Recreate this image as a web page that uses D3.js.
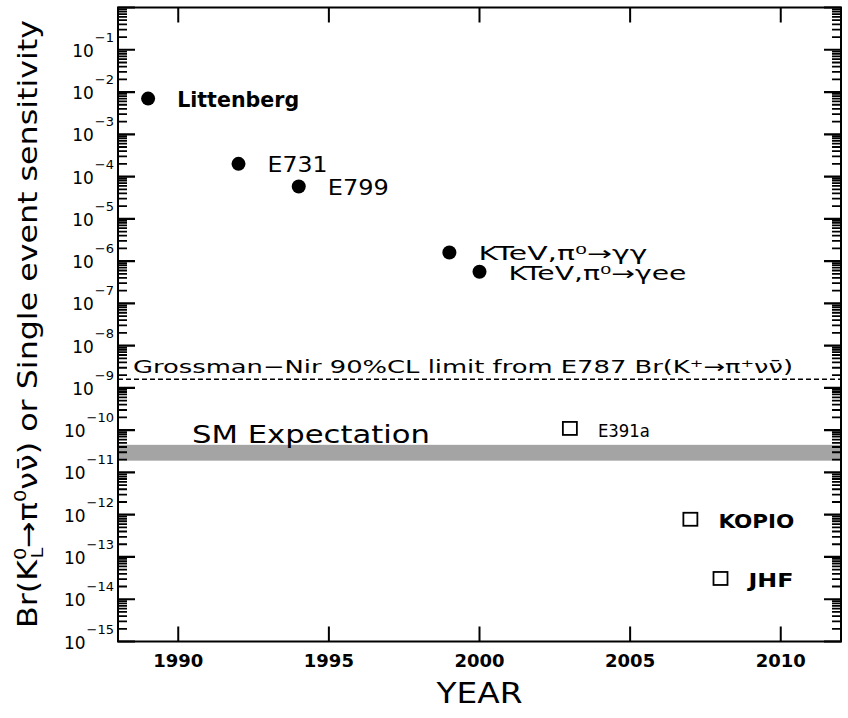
<!DOCTYPE html>
<html><head><meta charset="utf-8">
<script src="https://cdn.jsdelivr.net/npm/d3@7"></script>
<style>
body{margin:0;background:#fff}
svg{display:block}
text{font-family:"DejaVu Sans","Liberation Sans",sans-serif;fill:#000}
</style>
</head><body>
<svg id="c" width="848" height="718"></svg>
<script>
// ---------------- data ----------------
const measuredNames  = ["Littenberg", "E731", "E799", "KTeV,π⁰→γγ", "KTeV,π⁰→γee"];
const measuredYears  = [1989, 1992, 1994, 1999, 2000];
const measuredValues = [7.0e-3, 2.0e-4, 5.8e-5, 1.6e-6, 5.6e-7];

const futureNames  = ["E391a", "KOPIO", "JHF"];
const futureYears  = [2003, 2007, 2008];
const futureValues = [1.1e-10, 7.8e-13, 3.1e-14];

const grossmanNirLimit = 1.6e-9;
const grossmanNirLabel = "Grossman−Nir 90%CL limit from E787 Br(K⁺→π⁺νν̄)";
const smBand = [1.9e-11, 4.5e-11];
const smLabel = "SM Expectation";

const xTicks = [1990, 1995, 2000, 2005, 2010];
const yExponents = [-1,-2,-3,-4,-5,-6,-7,-8,-9,-10,-11,-12,-13,-14,-15];
const xTitle = "YEAR";

// ---------------- layout ----------------
const L = 118, R = 841, T = 7.5, B = 641.5;
const svg = d3.select("#c");
const x = d3.scaleLinear().domain([1988, 2012]).range([L, R]);
const y = d3.scaleLog().domain([1e-15, 1]).range([B, T]);

function stretch(sel, w) {
  sel.attr("textLength", w).attr("lengthAdjust", "spacingAndGlyphs");
}

// SM band
svg.append("rect")
  .attr("x", L).attr("width", R - L)
  .attr("y", y(smBand[1])).attr("height", y(smBand[0]) - y(smBand[1]))
  .attr("fill", "#a4a4a4");

// Grossman-Nir limit dashed line
svg.append("line")
  .attr("x1", L).attr("x2", R)
  .attr("y1", y(grossmanNirLimit)).attr("y2", y(grossmanNirLimit))
  .attr("stroke", "#000").attr("stroke-width", 1.3).attr("stroke-dasharray", "5,3");

// ---------------- ticks (drawn as paths from the scales) ----------------
const yMajor = yExponents.concat([0]).map(e => Math.pow(10, e));
const yMinor = [];
yExponents.forEach(e => { for (let k = 2; k <= 9; k++) yMinor.push(k * Math.pow(10, e)); });

function yTickPath(vals, x0, len) {
  const p = d3.path();
  vals.forEach(v => { const yy = y(v); p.moveTo(x0, yy); p.lineTo(x0 + len, yy); });
  return p.toString();
}
[[L, 1], [R, -1]].forEach(([x0, dir]) => {
  svg.append("path").attr("d", yTickPath(yMinor, x0, dir * 9))
    .attr("fill", "none").attr("stroke", "#000").attr("stroke-width", 1.8);
  svg.append("path").attr("d", yTickPath(yMajor, x0, dir * 17))
    .attr("fill", "none").attr("stroke", "#000").attr("stroke-width", 2.2);
});
[[B, -1], [T, 1]].forEach(([y0, dir]) => {
  const p = d3.path();
  xTicks.forEach(t => { p.moveTo(x(t), y0); p.lineTo(x(t), y0 + dir * 15); });
  svg.append("path").attr("d", p.toString())
    .attr("fill", "none").attr("stroke", "#000").attr("stroke-width", 2);
});

// frame
svg.append("rect").attr("x", L).attr("y", T).attr("width", R - L).attr("height", B - T)
  .attr("fill", "none").attr("stroke", "#000").attr("stroke-width", 2);

// y tick labels
const yl = svg.selectAll(".ylab").data(yExponents).enter().append("text")
  .attr("class", "ylab")
  .attr("x", 114).attr("y", e => y(Math.pow(10, e)) + 7)
  .attr("text-anchor", "end").attr("font-size", 17);
yl.append("tspan").text("10");
yl.append("tspan").attr("dy", -15).attr("dx", 1).attr("font-size", 13).text(e => "−" + Math.abs(e));

// x tick labels
svg.selectAll(".xlab").data(xTicks).enter().append("text")
  .attr("class", "xlab")
  .attr("x", d => x(d)).attr("y", 667)
  .attr("text-anchor", "middle").attr("font-size", 18).attr("font-weight", "bold")
  .text(d => d);

// axis titles
svg.append("text").attr("x", (L + R) / 2).attr("y", 703)
  .attr("text-anchor", "middle").attr("font-size", 29).call(stretch, 86).text(xTitle);

const yt = svg.append("text")
  .attr("transform", "translate(37,324) rotate(-90)")
  .attr("text-anchor", "middle").attr("font-size", 26);
yt.append("tspan").text("Br(K");
yt.append("tspan").attr("font-size", 16).attr("dy", -11).text("0");
yt.append("tspan").attr("font-size", 16).attr("dx", -9).attr("dy", 17).text("L");
yt.append("tspan").attr("dy", -6).text("→π");
yt.append("tspan").attr("font-size", 16).attr("dy", -11).text("0");
yt.append("tspan").attr("dy", 11).text("νν̄) or Single event sensitivity");
yt.call(stretch, 608);

// ---------------- marks ----------------
svg.selectAll(".meas").data(measuredYears).enter().append("circle")
  .attr("class", "meas")
  .attr("cx", (d) => x(d)).attr("cy", (d, i) => y(measuredValues[i]))
  .attr("r", 7).attr("fill", "#000");

const sq = 14;
svg.selectAll(".fut").data(futureYears).enter().append("rect")
  .attr("class", "fut")
  .attr("x", d => x(d) - sq / 2).attr("y", (d, i) => y(futureValues[i]) - 6.5)
  .attr("width", sq).attr("height", 13)
  .attr("fill", "#fff").attr("stroke", "#000").attr("stroke-width", 1.8);

// point labels
const measWidths = [122, 60, 61, 169, 178];
const measBold = [true, false, false, false, false];
const measSize = [21, 21, 21, 19, 19];
svg.selectAll(".mlab").data(measuredNames).enter().append("text")
  .attr("class", "mlab")
  .attr("x", (d, i) => x(measuredYears[i]) + 29)
  .attr("y", (d, i) => y(measuredValues[i]) + 8)
  .attr("font-size", (d, i) => measSize[i])
  .attr("font-weight", (d, i) => measBold[i] ? "bold" : "normal")
  .attr("textLength", (d, i) => measWidths[i]).attr("lengthAdjust", "spacingAndGlyphs")
  .text(d => d);

const futWidths = [52, 76, 45];
const futBold = [false, true, true];
svg.selectAll(".flab").data(futureNames).enter().append("text")
  .attr("class", "flab")
  .attr("x", (d, i) => x(futureYears[i]) + 28)
  .attr("y", (d, i) => y(futureValues[i]) + 9)
  .attr("font-size", (d, i) => i === 0 ? 17 : 19)
  .attr("font-weight", (d, i) => futBold[i] ? "bold" : "normal")
  .attr("textLength", (d, i) => futWidths[i]).attr("lengthAdjust", "spacingAndGlyphs")
  .text(d => d);

// line labels
svg.append("text").attr("x", 133).attr("y", y(grossmanNirLimit) - 6)
  .attr("font-size", 18).call(stretch, 660).text(grossmanNirLabel);

svg.append("text").attr("x", 192).attr("y", y(smBand[1]) - 2)
  .attr("font-size", 25).call(stretch, 238).text(smLabel);
</script>
</body></html>
